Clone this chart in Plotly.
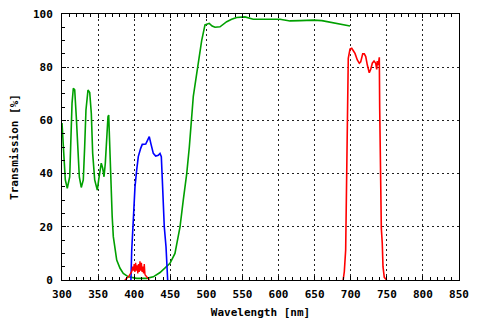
import plotly.graph_objects as go

# Green filter curve
green_nm = [300, 302.8, 304.6, 307.3, 310.7, 312, 313.9, 315.7, 317.6, 319.8, 322.2, 324, 326.7,
            329.5, 331.4, 333.2, 336, 338.4, 340.6, 342.5, 345.3, 348.9, 350.8, 352.6, 354.4,
            356.4, 358.2, 360, 361.9, 363.7, 364.7, 366, 367.5, 368.3, 369.5, 371.1, 373.4,
            375.8, 380.4, 384.9, 391.9, 403.5, 417.3, 426.5, 435.8, 442.7, 449.6, 456.5, 463.5,
            468, 472.8, 476.4, 478.3, 481.9, 488.8, 493.5, 498.1, 501, 504, 508, 512, 518.9,
            523, 528.2, 535, 542, 553.5, 558, 565, 602, 615.9, 629.7, 648.2, 660, 671.3,
            685.1, 699]
green_t = [59, 42.6, 37.6, 34.5, 38.8, 50.1, 66.4, 72.1, 71.5, 61.4, 47.6, 38.8, 34.8,
           37.6, 50.1, 63.9, 71.4, 70.5, 62.7, 47.6, 37.6, 33.8, 37.6, 41.4, 43.9,
           42, 38.8, 43.9, 55.1, 61.4, 62, 50.1, 38.8, 32, 24, 16.3, 11.3,
           7.5, 4.4, 2.5, 1.2, 0.6, 0.6, 1.2, 2.8, 4.4, 6.3, 10, 20,
           30, 40, 50, 57, 69, 81.5, 90, 95.9, 96.3, 96.5, 95.5, 95, 95.2,
           96.2, 97.1, 98, 98.7, 98.9, 98.5, 98, 98, 97.4, 97.5, 97.7, 97.5, 96.9,
           96.2, 95.5]

# Blue filter curve
blue_nm = [395.5, 396.6, 398.8, 401.1, 403.5, 405.7, 409, 411.2, 416, 419.6, 420.9, 423.3,
           426.5, 429.8, 433.4, 435.8, 437.6, 439, 440.3, 441.7, 444.1, 445, 446.4]
blue_t = [0, 11.3, 22.6, 35, 41.4, 46.4, 49.5, 51, 51.1, 53.3, 53.9, 51.1,
          47.6, 46.6, 46.9, 47.6, 46.4, 37.6, 28.8, 20, 12.5, 6.3, 0]

# Red filter curve (blue leak region and main red band)
red_low_nm = [387, 392, 396.6, 398, 399, 400, 401, 402, 403, 404, 405, 406, 407, 408, 409,
              410, 411, 412, 413, 414, 415, 417.3, 421]
red_low_t = [0, 1.2, 3.1, 5, 3.5, 6, 3, 6.5, 3.5, 5.5, 2.5, 6, 3, 7, 3.5,
             6.5, 3, 5, 2.5, 6, 2, 1.2, 0]
red_high_nm = [689.5, 691.1, 693, 694.4, 696.6, 699, 701.4, 703.6, 705.9, 709.1, 711.9, 713.8,
               716.6, 718.8, 720.8, 723, 725.7, 727.7, 729.9, 732.3, 734.6, 736, 736.8, 738.2,
               739.6, 740.1, 741, 742.4, 743.7, 744.7, 746.5, 749.8]
red_high_t = [0, 3.1, 11.3, 35, 83.3, 86.8, 87.1, 86.2, 85.2, 82.7, 81.5, 82,
              85, 85, 84, 80.8, 77.9, 79.2, 81.5, 82.3, 81.5, 79.2, 82.3, 80.8,
              83.7, 65.2, 40.1, 19.4, 13.8, 5, 1, 0]

x_ticks = [300, 350, 400, 450, 500, 550, 600, 650, 700, 750, 800, 850]
y_ticks = [0, 20, 40, 60, 80, 100]

GREEN = "#00a000"
BLUE = "#0000ff"
RED = "#ff0000"

fig = go.Figure()
fig.add_trace(go.Scatter(x=green_nm, y=green_t, mode="lines", line=dict(color=GREEN, width=1.6)))
fig.add_trace(go.Scatter(x=blue_nm, y=blue_t, mode="lines", line=dict(color=BLUE, width=1.6)))
fig.add_trace(go.Scatter(x=red_low_nm, y=red_low_t, mode="lines", line=dict(color=RED, width=1.4)))
fig.add_trace(go.Scatter(x=red_high_nm, y=red_high_t, mode="lines", line=dict(color=RED, width=1.6)))

font = dict(family="DejaVu Sans Mono", size=11, color="black", weight="bold")

# page body has an 8px margin, so the figure is 8px smaller and margins shifted
fig.update_layout(
    width=472, height=312,
    margin=dict(l=54, r=21, t=6, b=40),
    paper_bgcolor="white", plot_bgcolor="white",
    showlegend=False,
    font=font,
)
fig.update_xaxes(
    range=[300, 850], tickvals=x_ticks, ticktext=[str(v) for v in x_ticks],
    showline=True, linecolor="black", linewidth=1, mirror="ticks",
    ticks="inside", ticklen=4, tickcolor="black",
    minor=dict(dtick=10, ticks="inside", ticklen=3, tickcolor="black", showgrid=False),
    showgrid=True, gridcolor="#222222", griddash="2px,3px", gridwidth=1,
    zeroline=False, tickfont=font, ticklabelstandoff=4, automargin=False,
    ticklabeloverflow="allow",
    title=dict(text="Wavelength [nm]", font=font, standoff=8),
)
fig.update_yaxes(
    range=[0, 100], tickvals=y_ticks, ticktext=[str(v) for v in y_ticks],
    showline=True, linecolor="black", linewidth=1, mirror=True,
    ticks="inside", ticklen=4, tickcolor="black",
    minor=dict(dtick=5, ticks="inside", ticklen=3, tickcolor="black", showgrid=False),
    showgrid=True, gridcolor="#222222", griddash="2px,3px", gridwidth=1,
    zeroline=False, tickfont=font, ticklabelstandoff=6, automargin=False,
    ticklabeloverflow="allow",
    title=dict(text="Transmission [%]", font=font, standoff=17),
)

fig.write_html("out.html")
